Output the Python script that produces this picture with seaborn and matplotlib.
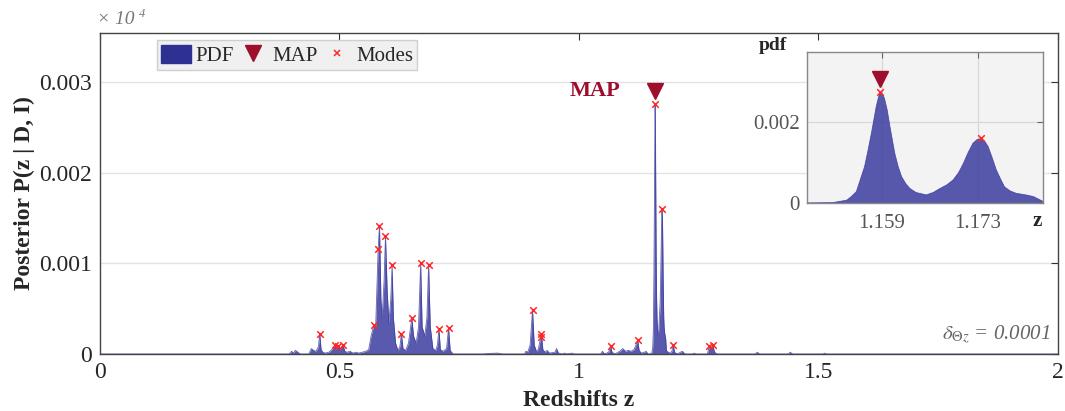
import numpy as np
import pandas as pd
import matplotlib
matplotlib.use("Agg")
import matplotlib.pyplot as plt
import matplotlib.transforms as mtrans
from matplotlib.patches import Patch
from matplotlib.lines import Line2D
import seaborn as sns

# ---------------- data ----------------
pdf_z = [0.0, 0.395, 0.400, 0.404, 0.408, 0.413, 0.418,
         0.436, 0.441, 0.446, 0.451, 0.456, 0.4588, 0.4615, 0.465, 0.470, 0.478,
         0.484, 0.4906, 0.494, 0.4976, 0.501, 0.5073, 0.511, 0.516, 0.522, 0.528, 0.534, 0.540, 0.548, 0.555,
         0.561, 0.566, 0.5717, 0.5755, 0.5807, 0.5835, 0.5865, 0.589, 0.593, 0.596, 0.5995, 0.603, 0.607,
         0.6098, 0.6125, 0.617, 0.622, 0.626, 0.6293, 0.6325, 0.638, 0.644, 0.651, 0.6545, 0.660, 0.665,
         0.6694, 0.6725, 0.678, 0.6825, 0.686, 0.6895, 0.695, 0.701, 0.7045, 0.7076, 0.7105, 0.716,
         0.7235, 0.7277, 0.731, 0.737,
         0.800, 0.810, 0.830, 0.840, 0.886, 0.889, 0.893, 0.898, 0.903, 0.9065, 0.911, 0.915, 0.9204, 0.9216,
         0.9245, 0.929, 0.9335, 0.938, 0.950, 0.953, 0.957, 0.965, 0.970, 0.975, 0.985, 0.990,
         1.045, 1.049, 1.053, 1.062, 1.0659, 1.069, 1.075, 1.085, 1.0915, 1.097, 1.103, 1.109, 1.115,
         1.1227, 1.1255, 1.130, 1.137, 1.140, 1.144,
         1.1481, 1.1519, 1.1539, 1.1545, 1.1553, 1.1565, 1.157, 1.1575, 1.1582, 1.1585, 1.1588, 1.1591,
         1.1594, 1.1598, 1.1602, 1.1609, 1.1614, 1.1619, 1.1625, 1.1631, 1.164, 1.1655, 1.1665, 1.1675,
         1.1685, 1.1694, 1.1702, 1.1709, 1.1716, 1.1723, 1.1729, 1.1735, 1.174, 1.1745, 1.1751, 1.1757,
         1.1763, 1.1769, 1.1777, 1.1786, 1.180, 1.1811, 1.1825,
         1.186, 1.190, 1.194, 1.1968, 1.1995, 1.205, 1.212, 1.216, 1.221, 1.238, 1.2405, 1.244,
         1.268, 1.2723, 1.2755, 1.2792, 1.283, 1.288, 1.368, 1.372, 1.377, 1.437, 1.441, 1.446,
         1.510, 1.513, 1.516, 2.0]
pdf_p = [0, 0, 0.00003, 0.00001, 0.00004, 0.00002, 0,
         0, 0.00006, 0.00004, 0.00003, 0.00008, 0.000223, 0.00005, 0.00002, 0.00001, 0.00002,
         0.00005, 0.000101, 0.00006, 0.000086, 0.00005, 0.0001, 0.00003, 0.00002, 0.00003, 0.00001, 0.00002, 0.00001, 0.00002, 0.00003,
         0.00005, 0.0002, 0.00032, 0.0003, 0.00116, 0.001417, 0.0006, 0.0004, 0.0008, 0.001306, 0.0007, 0.00034, 0.0006,
         0.00098, 0.0004, 0.00012, 0.00004, 0.00008, 0.000223, 0.00006, 0.00004, 0.00012, 0.0004, 0.0002, 0.00012, 0.0003,
         0.001005, 0.0003, 0.0002, 0.0004, 0.00098, 0.0003, 0.00006, 0.00004, 0.0001, 0.000278, 0.00005, 0.00003,
         0.00006, 0.000289, 0.00004, 0,
         0, 0.000005, 0.00001, 0, 0, 0.00003, 0.00002, 0.0001, 0.00049, 0.0001, 0.00003, 0.00005, 0.00019, 0.000223,
         0.00005, 0.00002, 0.00004, 0.00001, 0.00002, 0.00006, 0.00001, 0, 0.00001, 0, 0.00001, 0,
         0, 0.00003, 0, 0.00002, 0.00009, 0.00002, 0, 0.00003, 0.00006, 0.00003, 0.00004, 0.00003, 0.00005,
         0.000149, 0.00004, 0.00001, 0.00002, 0.00003, 0,
         0.000002, 0.00001, 0.00007, 0.00015, 0.00028, 0.0009, 0.0013, 0.00173, 0.00239, 0.0026, 0.00276, 0.0027,
         0.00259, 0.0023, 0.00189, 0.00123, 0.0009, 0.00065, 0.00048, 0.00036, 0.00026, 0.0002, 0.00026, 0.00036,
         0.00045, 0.00057, 0.00075, 0.00098, 0.00125, 0.00148, 0.00157, 0.0016, 0.00153, 0.0014, 0.00112, 0.00082,
         0.0006, 0.0004, 0.0003, 0.00024, 0.0002, 0.00016, 0.00004,
         0.00002, 0.00001, 0.00003, 0.0001, 0.00002, 0, 0.00002, 0.00003, 0, 0, 0.00001, 0,
         0, 0.00009, 0.00006, 0.0001, 0.00002, 0, 0, 0.00002, 0, 0, 0.00002, 0,
         0, 0.00001, 0, 0]

mode_z = [0.4588, 0.4906, 0.4976, 0.5073, 0.5717, 0.5807, 0.5835, 0.596, 0.6098, 0.6293, 0.651,
          0.6694, 0.686, 0.7076, 0.7277, 0.903, 0.9204, 0.9216, 1.0659, 1.1227, 1.1588, 1.1735,
          1.1968, 1.2723, 1.2792]
mode_p = [0.000223, 0.000101, 0.000086, 0.0001, 0.00032, 0.00116, 0.001417, 0.001306, 0.00098, 0.000223, 0.0004,
          0.001005, 0.00098, 0.000278, 0.000289, 0.00049, 0.00019, 0.000223, 0.00009, 0.000149, 0.00276, 0.0016,
          0.0001, 0.00009, 0.0001]
map_z = 1.1588
map_p = 0.00276

x_ticks = [0, 0.5, 1, 1.5, 2]
x_tick_labels = ["0", "0.5", "1", "1.5", "2"]
y_ticks = [0, 0.001, 0.002, 0.003]
y_tick_labels = ["0", "0.001", "0.002", "0.003"]
inset_x_ticks = [1.159, 1.173]
inset_y_ticks = [0, 0.002]
inset_y_tick_labels = ["0", "0.002"]

# ---------------- style ----------------
sns.set_style("white")
plt.rcParams['font.family'] = ['Liberation Serif', 'DejaVu Serif']
plt.rcParams['mathtext.fontset'] = 'stix'

PDF_COL = "#3c3ca0"
MAP_COL = "#9e0f2e"
MODE_COL = "#ff2626"

df = pd.DataFrame({"z": pdf_z, "p": pdf_p})
modes = pd.DataFrame({"z": mode_z, "p": mode_p})

fig = plt.figure(figsize=(10.65, 4.11), dpi=100)
ax = fig.add_axes([0.0939, 0.1387, 0.8995, 0.781])

ax.fill_between(df["z"], df["p"], 0, color=PDF_COL, alpha=0.85, linewidth=0)
sns.lineplot(data=df, x="z", y="p", ax=ax, color=PDF_COL, lw=0.6, alpha=0.8,
             estimator=None, sort=False)
sns.scatterplot(data=modes, x="z", y="p", ax=ax, marker="x", color=MODE_COL,
                s=22, linewidth=1.1, zorder=5)
off_main = mtrans.offset_copy(ax.transData, fig=fig, x=0, y=9.5, units='points')
ax.plot([map_z], [map_p], marker="v", color=MAP_COL, markersize=12,
        transform=off_main, zorder=6, linestyle="none")
ax.annotate("MAP", xy=(map_z, map_p), xytext=(-25, 9.5), textcoords="offset points",
            ha="right", va="center", color=MAP_COL, fontsize=16, fontweight="bold")

ax.set_xlim(0, 2)
ax.set_ylim(0, 0.00354)
ax.set_xticks(x_ticks)
ax.set_xticklabels(x_tick_labels)
ax.set_yticks(y_ticks)
ax.set_yticklabels(y_tick_labels)
ax.tick_params(axis="both", direction="in", top=True, right=True, length=5,
               labelsize=17, color="#333333", pad=6)
ax.grid(axis="y", color="#e3e3e3", lw=1)
ax.set_axisbelow(True)
for s in ax.spines.values():
    s.set_color("#444444")
    s.set_linewidth(1)
ax.set_xlabel("Redshifts z", fontsize=17, fontweight="bold", labelpad=5)
ax.set_ylabel("Posterior P(z | D, I)", fontsize=17, fontweight="bold", labelpad=3)

fig.text(0.091, 0.952, "× 10", color="#777777", fontsize=14, fontstyle="italic",
         ha="left", va="center")
fig.text(0.1305, 0.966, "4", color="#777777", fontsize=9, fontstyle="italic",
         ha="left", va="center")
ax.text(0.992, 0.06, r"$\delta_{\mathit{\Theta z}}$" + " = 0.0001", transform=ax.transAxes,
        ha="right", va="center", fontsize=15, color="#666666", fontstyle="italic")

handles = [Patch(facecolor="#2e3192", edgecolor="#2e3192"),
           Line2D([], [], marker="v", color=MAP_COL, linestyle="none", markersize=12),
           Line2D([], [], marker="x", color=MODE_COL, linestyle="none", markersize=4, mew=1.1)]
leg = ax.legend(handles, ["PDF", "MAP", "Modes"], ncol=3, loc="upper left",
                bbox_to_anchor=(0.055, 0.99), fontsize=15, frameon=True, fancybox=False,
                handlelength=1.45, handleheight=1.0, handletextpad=0.2, columnspacing=0.2,
                borderpad=0.2, borderaxespad=0.2)
leg.get_frame().set_facecolor("#f0f0f0")
leg.get_frame().set_edgecolor("#cfcfcf")
leg.get_frame().set_alpha(1)

# ---------------- inset ----------------
axi = fig.add_axes([0.7577, 0.5061, 0.2216, 0.3674])
axi.set_facecolor("#f3f3f3")
axi.fill_between(df["z"], df["p"], 0, color=PDF_COL, alpha=0.85, linewidth=0)
sns.lineplot(data=df, x="z", y="p", ax=axi, color=PDF_COL, lw=0.6, alpha=0.8,
             estimator=None, sort=False)
sns.scatterplot(data=modes, x="z", y="p", ax=axi, marker="x", color=MODE_COL,
                s=22, linewidth=1.1, zorder=5)
off_in = mtrans.offset_copy(axi.transData, fig=fig, x=0, y=9, units='points')
axi.plot([map_z], [map_p], marker="v", color=MAP_COL, markersize=12,
         transform=off_in, zorder=6, linestyle="none", clip_on=False)
axi.set_xlim(1.1481, 1.1825)
axi.set_ylim(0, 0.00374)
axi.set_xticks(inset_x_ticks)
axi.set_xticklabels([f"{v:.3f}" for v in inset_x_ticks])
axi.set_yticks(inset_y_ticks)
axi.set_yticklabels(inset_y_tick_labels)
axi.tick_params(axis="both", direction="in", top=True, right=True, length=4,
                labelsize=15, labelcolor="#555555", color="#666666", pad=5)
axi.tick_params(axis="x", pad=8)
axi.grid(True, color="#d8d8d8", lw=0.9)
axi.set_axisbelow(True)
for s in axi.spines.values():
    s.set_color("#888888")
    s.set_linewidth(1)
axi.set_xlabel("")
axi.set_ylabel("")
axi.text(-0.205, 1.045, "pdf", transform=axi.transAxes, ha="left", va="center",
         fontsize=14, fontweight="bold")
axi.text(0.955, -0.12, "z", transform=axi.transAxes, ha="left", va="center",
         fontsize=15, fontweight="bold")

fig.savefig("out.png", dpi=100)
